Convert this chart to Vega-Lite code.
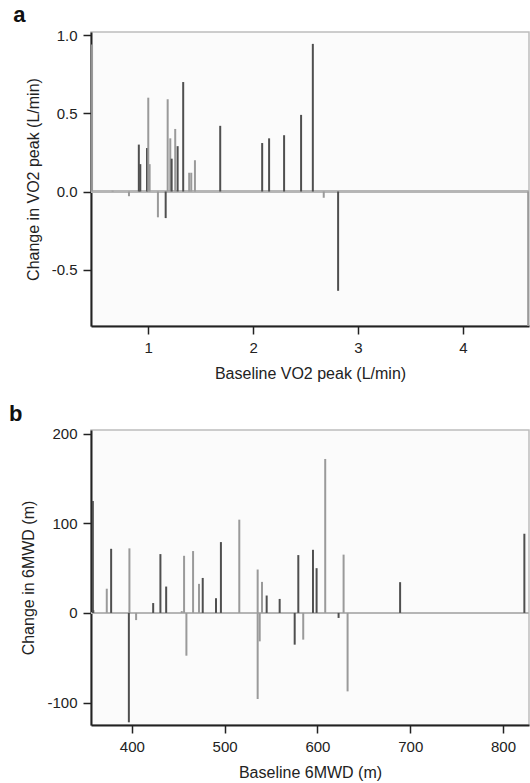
{
  "$schema": "https://vega.github.io/schema/vega-lite/v6.json",
  "background": "white",
  "padding": {"left": 8, "top": 3, "right": 1, "bottom": 0},
  "config": {
    "font": "Liberation Sans",
    "view": {"stroke": "#bdbdbd", "strokeWidth": 1.5, "fill": "#fbfbfb"},
    "axis": {"domainColor": "#222", "domainWidth": 2, "tickColor": "#222", "tickWidth": 1.5, "tickSize": 8, "grid": false, "labelFontSize": 15, "labelColor": "#222", "titleFontSize": 16, "titleFontWeight": "normal", "titleColor": "#222", "labelPadding": 6, "titlePadding": 10, "labelExpr": "replace(datum.label, '\u2212', '-')"},
    "title": {"fontSize": 22, "fontWeight": "bold", "anchor": "start", "frame": "bounds", "dx": -12, "offset": 1, "color": "#111"}
  },
  "spacing": 19,
  "datasets": {
    "vo2": [
      {"x": 0.464, "v": 0.94, "g": "l"},
      {"x": 0.66, "v": 0.005, "g": "l"},
      {"x": 0.816, "v": -0.03, "g": "l"},
      {"x": 0.91, "v": 0.30, "g": "d"},
      {"x": 0.924, "v": 0.175, "g": "d"},
      {"x": 0.988, "v": 0.278, "g": "d"},
      {"x": 1.0, "v": 0.60, "g": "l"},
      {"x": 1.013, "v": 0.175, "g": "l"},
      {"x": 1.092, "v": -0.165, "g": "l"},
      {"x": 1.166, "v": -0.17, "g": "d"},
      {"x": 1.185, "v": 0.59, "g": "l"},
      {"x": 1.21, "v": 0.34, "g": "l"},
      {"x": 1.223, "v": 0.21, "g": "d"},
      {"x": 1.257, "v": 0.40, "g": "l"},
      {"x": 1.28, "v": 0.29, "g": "d"},
      {"x": 1.333, "v": 0.70, "g": "d"},
      {"x": 1.39, "v": 0.12, "g": "l"},
      {"x": 1.41, "v": 0.12, "g": "l"},
      {"x": 1.445, "v": 0.20, "g": "l"},
      {"x": 1.686, "v": 0.42, "g": "d"},
      {"x": 2.086, "v": 0.31, "g": "d"},
      {"x": 2.152, "v": 0.34, "g": "d"},
      {"x": 2.295, "v": 0.36, "g": "d"},
      {"x": 2.457, "v": 0.49, "g": "d"},
      {"x": 2.569, "v": 0.944, "g": "d"},
      {"x": 2.673, "v": -0.04, "g": "l"},
      {"x": 2.81, "v": -0.635, "g": "d"},
      {"x": 4.622, "v": -0.86, "g": "l"}
    ],
    "walk": [
      {"x": 358, "v": 124.8, "g": "d"},
      {"x": 358.5, "v": 3, "g": "d"},
      {"x": 373, "v": 27, "g": "l"},
      {"x": 377.7, "v": 71.5, "g": "d"},
      {"x": 397.4, "v": 72, "g": "l"},
      {"x": 396.8, "v": -122, "g": "d"},
      {"x": 404.6, "v": -8, "g": "l"},
      {"x": 423, "v": 11, "g": "d"},
      {"x": 430.8, "v": 65.6, "g": "d"},
      {"x": 437, "v": 29.4, "g": "d"},
      {"x": 453.8, "v": 2, "g": "l"},
      {"x": 456.3, "v": 63.7, "g": "l"},
      {"x": 458.8, "v": -47.7, "g": "l"},
      {"x": 466, "v": 69, "g": "l"},
      {"x": 472.4, "v": 32.4, "g": "l"},
      {"x": 476.4, "v": 39, "g": "d"},
      {"x": 490.7, "v": 16.4, "g": "d"},
      {"x": 496, "v": 79, "g": "d"},
      {"x": 515.8, "v": 104, "g": "l"},
      {"x": 535.6, "v": 48.4, "g": "l"},
      {"x": 535.6, "v": -96, "g": "l"},
      {"x": 537.8, "v": -31.7, "g": "l"},
      {"x": 540.3, "v": 34.6, "g": "l"},
      {"x": 545.3, "v": 19.4, "g": "d"},
      {"x": 559.3, "v": 15.6, "g": "d"},
      {"x": 575.5, "v": -35.4, "g": "d"},
      {"x": 579.4, "v": 64.5, "g": "d"},
      {"x": 584.7, "v": -29.8, "g": "l"},
      {"x": 595.2, "v": 70.4, "g": "d"},
      {"x": 599.1, "v": 49.9, "g": "d"},
      {"x": 608.4, "v": 171.7, "g": "l"},
      {"x": 622.8, "v": -5.6, "g": "d"},
      {"x": 628.2, "v": 65, "g": "l"},
      {"x": 632.5, "v": -87.5, "g": "l"},
      {"x": 689.1, "v": 34.3, "g": "d"},
      {"x": 823, "v": 88.3, "g": "d"}
    ]
  },
  "vconcat": [
    {
      "width": 438,
      "height": 294,
      "title": {"text": "a"},
      "data": {"name": "vo2"},
      "layer": [
        {
          "mark": {"type": "rule", "color": "#b5b5b5", "strokeWidth": 2},
          "encoding": {"y": {"datum": 0, "type": "quantitative"}}
        },
        {
          "mark": {"type": "rule", "strokeWidth": 2, "clip": true},
          "encoding": {
            "x": {"field": "x", "type": "quantitative", "scale": {"domain": [0.454, 4.63], "nice": false, "zero": false}, "axis": {"values": [1, 2, 3, 4], "title": "Baseline VO2 peak (L/min)"}},
            "y": {"field": "v", "type": "quantitative", "scale": {"domain": [-0.86, 1.02], "nice": false, "zero": false}, "axis": {"values": [-0.5, 0, 0.5, 1.0], "format": ".1f", "title": "Change in VO2 peak (L/min)"}},
            "y2": {"datum": 0},
            "color": {"field": "g", "type": "nominal", "scale": {"domain": ["d", "l"], "range": ["#4f4f4f", "#9a9a9a"]}, "legend": null}
          }
        }
      ]
    },
    {
      "width": 438,
      "height": 295,
      "title": {"text": "b"},
      "data": {"name": "walk"},
      "layer": [
        {
          "mark": {"type": "rule", "color": "#b5b5b5", "strokeWidth": 2},
          "encoding": {"y": {"datum": 0, "type": "quantitative"}}
        },
        {
          "mark": {"type": "rule", "strokeWidth": 2, "clip": true},
          "encoding": {
            "x": {"field": "x", "type": "quantitative", "scale": {"domain": [356, 828], "nice": false, "zero": false}, "axis": {"values": [400, 500, 600, 700, 800], "title": "Baseline 6MWD (m)"}},
            "y": {"field": "v", "type": "quantitative", "scale": {"domain": [-125, 204], "nice": false, "zero": false}, "axis": {"values": [-100, 0, 100, 200], "title": "Change in 6MWD (m)"}},
            "y2": {"datum": 0},
            "color": {"field": "g", "type": "nominal", "scale": {"domain": ["d", "l"], "range": ["#4f4f4f", "#9a9a9a"]}, "legend": null}
          }
        }
      ]
    }
  ]
}
